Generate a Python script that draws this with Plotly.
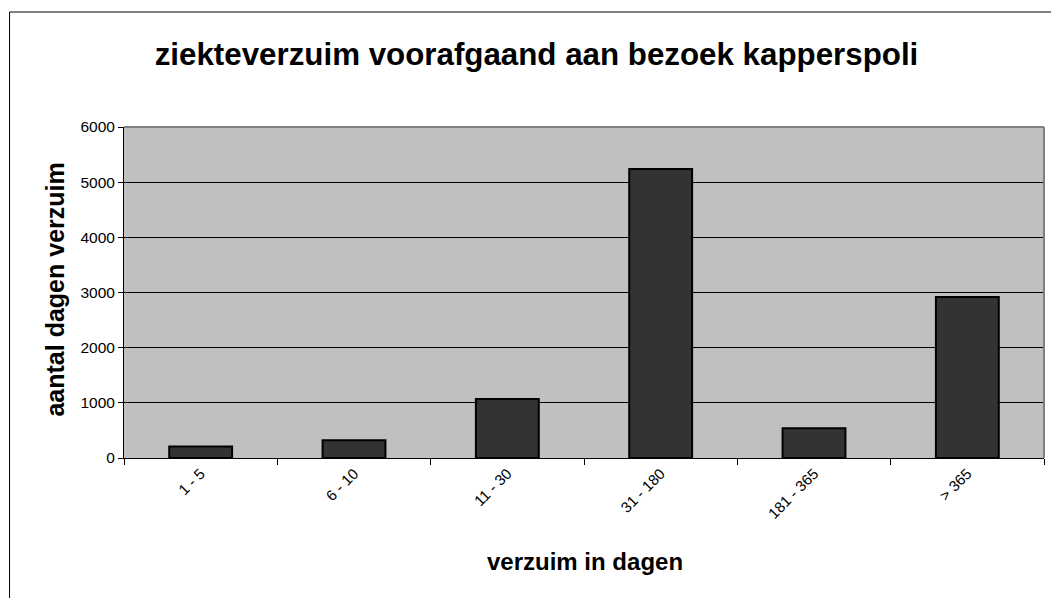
import plotly.graph_objects as go

categories = ["1 - 5", "6 - 10", "11 - 30", "31 - 180", "181 - 365", "> 365"]
values = [210, 320, 1070, 5240, 540, 2920]
y_ticks = [0, 1000, 2000, 3000, 4000, 5000, 6000]

# page body has an 8px margin, so the figure starts at (8, 8) in the window
W, H = 1051, 590
L, R, T, B = 115.5, 15, 119, 140
pw = W - L - R
ph = H - T - B

fig = go.Figure(go.Bar(
    x=categories, y=values,
    marker=dict(color="#333333", line=dict(color="#000000", width=2)),
    width=0.41,
))

fig.update_layout(
    width=W, height=H,
    margin=dict(l=L, r=R, t=T, b=B, autoexpand=False),
    paper_bgcolor="white",
    plot_bgcolor="#C0C0C0",
    font=dict(family="Liberation Sans, Arial", color="black", size=15),
    showlegend=False,
    title=dict(text="<b>ziekteverzuim voorafgaand aan bezoek kapperspoli</b>",
               x=528.5 / W, xanchor="center", y=1 - 46 / H, yanchor="middle",
               font=dict(size=31.3)),
    xaxis=dict(
        type="category", tickson="boundaries", ticks="outside", ticklen=6,
        tickcolor="black", showline=True, linecolor="black", linewidth=1,
        tickangle=-45, tickfont=dict(size=15), showgrid=False,
    ),
    yaxis=dict(
        range=[0, 6000], tickvals=y_ticks, ticks="outside", ticklen=5,
        tickcolor="black", showline=True, linecolor="black", linewidth=1,
        showgrid=True, gridcolor="black", gridwidth=1, zeroline=False,
        tickfont=dict(size=15.5),
    ),
    bargap=0.59,
)

fig.add_annotation(text="<b>aantal dagen verzuim</b>", xref="paper", yref="paper",
                   x=-69.5 / pw, y=(H - B - 282) / ph, xanchor="center", yanchor="middle",
                   textangle=-90, showarrow=False, font=dict(size=25))
fig.add_annotation(text="<b>verzuim in dagen</b>", xref="paper", yref="paper",
                   x=(576.5 - L) / pw, y=-(553 - (H - B)) / ph, xanchor="center",
                   yanchor="middle", showarrow=False, font=dict(size=24))

# plot-area frame (top/right grey edges)
fig.add_shape(type="line", xref="paper", yref="paper", x0=0, x1=1, y0=1, y1=1,
              line=dict(color="#808080", width=2))
fig.add_shape(type="line", xref="paper", yref="paper", x0=1, x1=1, y0=0, y1=1,
              line=dict(color="#808080", width=2))
# outer chart border
fig.add_shape(type="rect", xref="paper", yref="paper",
              x0=(1 - L) / pw, x1=(W + 5 - L) / pw,
              y0=-(B + 5) / ph, y1=(H - B - 4) / ph,
              line=dict(color="black", width=1), layer="below")

fig.write_html("out.html")
